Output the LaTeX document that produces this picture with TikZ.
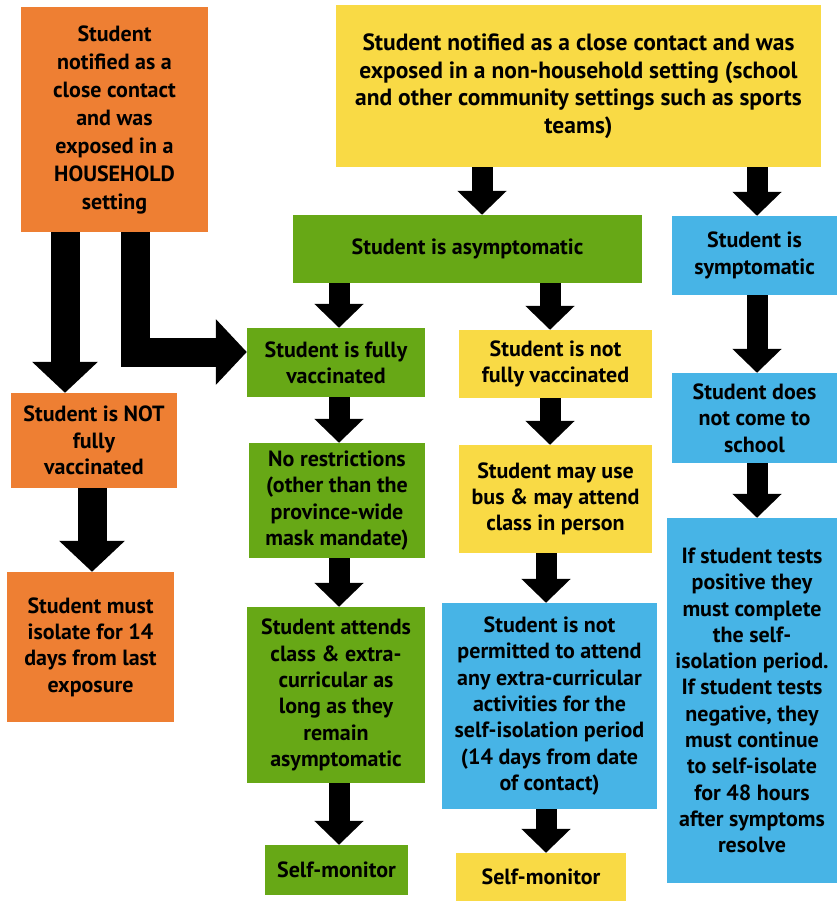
\documentclass[tikz,border=0pt]{standalone}
\usepackage{fontspec}
\setmainfont{PT Sans}
\usetikzlibrary{arrows.meta}
\definecolor{cOr}{HTML}{EE7F33}
\definecolor{cYe}{HTML}{F9DA45}
\definecolor{cGr}{HTML}{67A816}
\definecolor{cBl}{HTML}{47B4E6}
\begin{document}
\begin{tikzpicture}[x=1pt,y=-1pt,
  box/.style={inner sep=0pt, align=center, font=\bfseries\fontsize{22}{26.3}\selectfont, text=black},
  arr/.style={line width=21pt, -{Triangle[width=48pt,length=24pt]}},
  bigarr/.style={line width=29pt, line join=miter, -{Triangle[width=64pt,length=31pt]}}]
\useasboundingbox[fill=white] (0,0) rectangle (838,901);
% boxes
\node[box, fill=cOr, minimum width=187pt, minimum height=225pt, font=\bfseries\fontsize{22}{28}\selectfont] (hh) at (114.5,119.5)
  {Student\\notified as a\\close contact\\and was\\exposed in a\\HOUSEHOLD\\setting};
\node[box, fill=cYe, minimum width=485pt, minimum height=162pt, font=\bfseries\fontsize{23.5}{27.5}\selectfont] (nh) at (578.5,86)
  {Student notified as a close contact and was\\exposed in a non-household setting (school\\and other community settings such as sports\\teams)};
\node[box, fill=cGr, minimum width=349pt, minimum height=68pt] (asy) at (467.5,249)
  {Student is asymptomatic};
\node[box, fill=cBl, minimum width=165pt, minimum height=79pt] (sym) at (754.5,255.5)
  {Student is\\symptomatic};
\node[box, fill=cGr, minimum width=178pt, minimum height=69pt] (fv) at (336,362.5)
  {Student is fully\\vaccinated};
\node[box, fill=cYe, minimum width=193pt, minimum height=68pt] (nfv) at (555.5,364)
  {Student is not\\fully vaccinated};
\node[box, fill=cBl, minimum width=165pt, minimum height=90pt] (nc) at (754.5,418)
  {Student does\\not come to\\school};
\node[box, fill=cOr, minimum width=166pt, minimum height=95pt] (hnot) at (94,440.5)
  {Student is NOT\\fully\\vaccinated};
\node[box, fill=cOr, minimum width=167pt, minimum height=150pt] (iso) at (90.5,647)
  {Student must\\isolate for 14\\days from last\\exposure};
\node[box, fill=cGr, minimum width=176pt, minimum height=115pt] (nr) at (337,500.5)
  {No restrictions\\(other than the\\province-wide\\mask mandate)};
\node[box, fill=cGr, minimum width=178pt, minimum height=176pt] (att) at (336,695)
  {Student attends\\class \& extra-\\curricular as\\long as they\\remain\\asymptomatic};
\node[box, fill=cGr, minimum width=143pt, minimum height=50pt] (sm1) at (336.5,870)
  {Self-monitor};
\node[box, fill=cYe, minimum width=193pt, minimum height=108pt] (bus) at (555.5,499)
  {Student may use\\bus \& may attend\\class in person};
\node[box, fill=cBl, minimum width=215pt, minimum height=206pt] (np) at (549.5,706)
  {Student is not\\permitted to attend\\any extra-curricular\\activities for the\\self-isolation period\\(14 days from date\\of contact)};
\node[box, fill=cYe, minimum width=170pt, minimum height=48pt] (sm2) at (541,877)
  {Self-monitor};
\node[box, fill=cBl, minimum width=170pt, minimum height=365pt] (big) at (752,700.5)
  {If student tests\\positive they\\must complete\\the self-\\isolation period.\\If student tests\\negative, they\\must continue\\to self-isolate\\for 48 hours\\after symptoms\\resolve};
% arrow columns
\coordinate (xH) at (65,0);
\coordinate (xL) at (135.5,0);
\coordinate (xI) at (92,0);
\coordinate (xA) at (482,0);
\coordinate (xS) at (757,0);
\coordinate (xG) at (339,0);
\coordinate (xY) at (550,0);
\coordinate (xB) at (546,0);
% arrows
\draw[bigarr] (hh.south -| xH) -- (hnot.north -| xH);
\draw[bigarr] (hh.south -| xL) |- ([yshift=10.5pt]fv.west);
\draw[bigarr] (hnot.south -| xI) -- (iso.north -| xI);
\draw[arr] (nh.south -| xA) -- (asy.north -| xA);
\draw[arr] (nh.south -| xS) -- (sym.north -| xS);
\draw[arr] (asy.south -| xG) -- (fv.north -| xG);
\draw[arr] (asy.south -| xY) -- (nfv.north -| xY);
\draw[arr] (sym.south -| xS) -- (nc.north -| xS);
\draw[arr] (fv.south -| xG) -- (nr.north -| xG);
\draw[arr] (nfv.south -| xY) -- (bus.north -| xY);
\draw[arr] (nc.south -| xS) -- (big.north -| xS);
\draw[arr] (nr.south -| xG) -- (att.north -| xG);
\draw[arr] (bus.south -| xB) -- (np.north -| xB);
\draw[arr] (att.south -| xG) -- (sm1.north -| xG);
\draw[arr] (np.south -| xB) -- (sm2.north -| xB);
\end{tikzpicture}
\end{document}
